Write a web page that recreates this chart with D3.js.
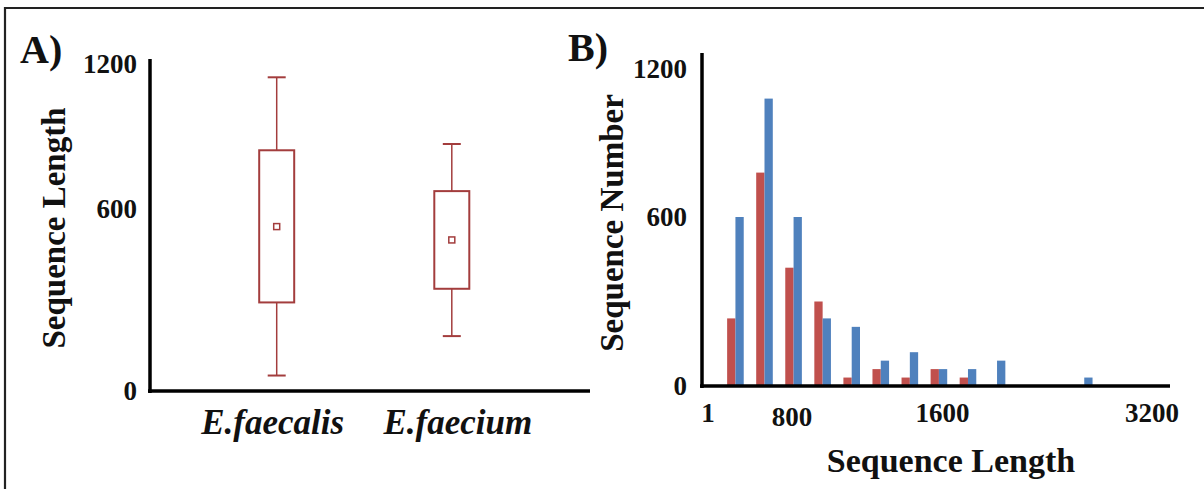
<!DOCTYPE html>
<html>
<head>
<meta charset="utf-8">
<script src="https://cdn.jsdelivr.net/npm/d3@7"></script>
<style>
  html, body { margin: 0; padding: 0; background: #fff; }
  svg { display: block; }
  text { font-family: "Liberation Serif", "Times New Roman", serif; font-weight: bold; fill: #111; }
</style>
</head>
<body>
<svg id="chart" width="1204" height="489"></svg>
<script>
// ---------- Panel A data (box plot) ----------
const speciesNames = ["E.faecalis", "E.faecium"];
const whiskerLow  = [51, 181];
const boxLow      = [292, 337];
const meanValue   = [542, 498];
const boxHigh     = [843, 674];
const whiskerHigh = [1145, 869];
const yTicksA     = [0, 600, 1200];

// ---------- Panel B data (histogram) ----------
const binIndex    = [0, 1, 2, 3, 4, 5, 6, 7, 8, 9, 10, 11, 12];
const faecalisCounts = [240, 780, 420, 300, 30, 60, 30, 60, 30, 0, 0, 0, 0];
const faeciumCounts  = [600, 1080, 600, 240, 210, 90, 120, 60, 60, 90, 0, 0, 30];
const yTicksB     = [0, 600, 1200];
const xTickLabelsB = ["1", "800", "1600", "3200"];
const xTickBinsB   = [-0.94, 1.95, 7.12, 14.33];

const boxColor = "#a33d3d";
const redColor = "#c0504d";
const blueColor = "#4f81bd";

const svg = d3.select("#chart");

// frame
svg.append("path")
  .attr("d", "M5,489 L5,8 L1204,8")
  .attr("fill", "none").attr("stroke", "#222").attr("stroke-width", 2.2);

// panel letters
svg.append("text").attr("x", 20).attr("y", 63).attr("font-size", 40).text("A)");
svg.append("text").attr("x", 568).attr("y", 61).attr("font-size", 40).text("B)");

// ================= Panel A =================
const yA = d3.scaleLinear().domain([0, 600, 1200]).range([391, 209, 64]);
const xA = d3.scalePoint().domain(speciesNames).range([150, 578.5]).padding(0.7236);

const gA = svg.append("g");

// y tick labels
gA.selectAll("text.ytick").data(yTicksA).join("text")
  .attr("class", "ytick")
  .attr("x", 137).attr("y", d => yA(d)).attr("dy", "0.35em")
  .attr("text-anchor", "end").attr("font-size", 27)
  .text(d => d);

// y title
gA.append("text")
  .attr("transform", `translate(65,${228}) rotate(-90)`)
  .attr("text-anchor", "middle").attr("font-size", 33)
  .text("Sequence Length");

// boxes
const boxW = 35, capW = 18;
const boxes = gA.selectAll("g.box").data(speciesNames).join("g").attr("class", "box");
boxes.append("line")
  .attr("x1", d => xA(d)).attr("x2", d => xA(d))
  .attr("y1", (d, i) => yA(whiskerHigh[i])).attr("y2", (d, i) => yA(boxHigh[i]))
  .attr("stroke", boxColor).attr("stroke-width", 1.5);
boxes.append("line")
  .attr("x1", d => xA(d)).attr("x2", d => xA(d))
  .attr("y1", (d, i) => yA(boxLow[i])).attr("y2", (d, i) => yA(whiskerLow[i]))
  .attr("stroke", boxColor).attr("stroke-width", 1.5);
boxes.append("line")
  .attr("x1", d => xA(d) - capW / 2).attr("x2", d => xA(d) + capW / 2)
  .attr("y1", (d, i) => yA(whiskerHigh[i])).attr("y2", (d, i) => yA(whiskerHigh[i]))
  .attr("stroke", boxColor).attr("stroke-width", 2);
boxes.append("line")
  .attr("x1", d => xA(d) - capW / 2).attr("x2", d => xA(d) + capW / 2)
  .attr("y1", (d, i) => yA(whiskerLow[i])).attr("y2", (d, i) => yA(whiskerLow[i]))
  .attr("stroke", boxColor).attr("stroke-width", 2);
boxes.append("rect")
  .attr("x", d => xA(d) - boxW / 2).attr("width", boxW)
  .attr("y", (d, i) => yA(boxHigh[i]))
  .attr("height", (d, i) => yA(boxLow[i]) - yA(boxHigh[i]))
  .attr("fill", "none").attr("stroke", boxColor).attr("stroke-width", 2);
boxes.append("rect")
  .attr("x", d => xA(d) - 3).attr("width", 6)
  .attr("y", (d, i) => yA(meanValue[i]) - 3).attr("height", 6)
  .attr("fill", "#fff").attr("stroke", boxColor).attr("stroke-width", 1.5);

// category labels
gA.selectAll("text.cat").data(speciesNames).join("text")
  .attr("class", "cat")
  .attr("x", (d, i) => xA(d) + (i === 0 ? -4 : 6)).attr("y", 434)
  .attr("text-anchor", "middle").attr("font-size", 35).attr("font-style", "italic")
  .text(d => d);

// axes lines
gA.append("line").attr("x1", 150).attr("x2", 150).attr("y1", yA(1200) - 5).attr("y2", yA(0) + 2)
  .attr("stroke", "#000").attr("stroke-width", 3.5);
gA.append("line").attr("x1", 148).attr("x2", 590).attr("y1", yA(0)).attr("y2", yA(0))
  .attr("stroke", "#000").attr("stroke-width", 3.5);

// ================= Panel B =================
const yB = d3.scaleLinear().domain([0, 600, 1200]).range([386, 217, 69]);
const xB = d3.scaleLinear().domain([-1.15, 14.95]).range([702, 1170]);
const barW = 8.3;

const gB = svg.append("g");

gB.selectAll("rect.red").data(binIndex).join("rect")
  .attr("class", "red")
  .attr("x", d => xB(d) - barW).attr("width", barW)
  .attr("y", (d, i) => yB(faecalisCounts[i]))
  .attr("height", (d, i) => yB(0) - yB(faecalisCounts[i]))
  .attr("fill", redColor);
gB.selectAll("rect.blue").data(binIndex).join("rect")
  .attr("class", "blue")
  .attr("x", d => xB(d)).attr("width", barW)
  .attr("y", (d, i) => yB(faeciumCounts[i]))
  .attr("height", (d, i) => yB(0) - yB(faeciumCounts[i]))
  .attr("fill", blueColor);

// y tick labels
gB.selectAll("text.ytick").data(yTicksB).join("text")
  .attr("class", "ytick")
  .attr("x", 687).attr("y", d => yB(d)).attr("dy", "0.35em")
  .attr("text-anchor", "end").attr("font-size", 27)
  .text(d => d);

// x tick labels
gB.selectAll("text.xtick").data(xTickLabelsB).join("text")
  .attr("class", "xtick")
  .attr("x", (d, i) => xB(xTickBinsB[i]))
  .attr("y", (d, i) => d === "800" ? 426 : 422)
  .attr("text-anchor", "middle").attr("font-size", 27)
  .text(d => d);

// titles
gB.append("text")
  .attr("transform", `translate(623,${223}) rotate(-90)`)
  .attr("text-anchor", "middle").attr("font-size", 33)
  .text("Sequence Number");
gB.append("text")
  .attr("x", 951).attr("y", 472)
  .attr("text-anchor", "middle").attr("font-size", 34)
  .text("Sequence Length");

// axes
gB.append("line").attr("x1", 702).attr("x2", 702).attr("y1", 53).attr("y2", yB(0) + 2)
  .attr("stroke", "#000").attr("stroke-width", 3.5);
gB.append("line").attr("x1", 700).attr("x2", 1170).attr("y1", yB(0)).attr("y2", yB(0))
  .attr("stroke", "#000").attr("stroke-width", 3.5);
</script>
</body>
</html>
